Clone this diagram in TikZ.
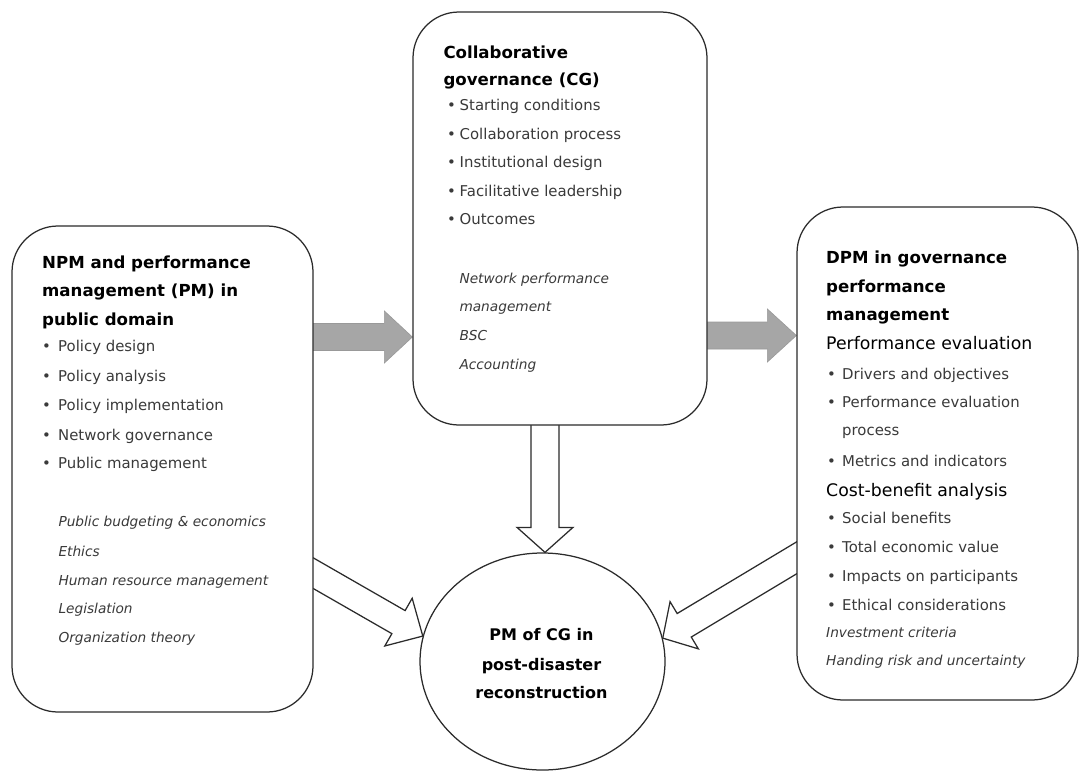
\documentclass[tikz,border=0pt]{standalone}
\usepackage{fontspec}
\setmainfont{DejaVu Sans}
\usetikzlibrary{shapes.geometric,calc,backgrounds}
\definecolor{edge}{HTML}{2B2B2B}
\definecolor{bodytext}{HTML}{3A3A3A}
\definecolor{blockgray}{HTML}{A6A6A6}
\newcommand\dotitem[2]{\makebox[#1][l]{•}#2}
\tikzset{
  panel/.style={draw=edge, line width=1.25pt, fill=white, rounded corners=46pt, inner sep=0pt},
  hub/.style={ellipse, draw=edge, line width=1.25pt, fill=white, inner sep=0pt},
  heading/.style={anchor=base west, inner sep=0pt, font=\bfseries\fontsize{16.6}{20}\selectfont, text=black},
  item/.style={anchor=base west, inner sep=0pt, font=\fontsize{14.9}{17}\selectfont, text=bodytext},
  topic/.style={anchor=base west, inner sep=0pt, font=\itshape\fontsize{13.7}{16}\selectfont, text=bodytext},
  subhead/.style={anchor=base west, inner sep=0pt, font=\fontsize{17.3}{20}\selectfont, text=black},
  hubtext/.style={anchor=base, inner sep=0pt, font=\bfseries\fontsize{16}{19}\selectfont, text=black},
  grayblock/.style={fill=blockgray, draw=blockgray!92!black, line width=0.6pt},
  hollow/.style={fill=white, draw=edge, line width=1.25pt, line join=miter},
}
\begin{document}
\begin{tikzpicture}[x=1pt,y=-1pt]
\useasboundingbox (0,0) rectangle (1083,771);

% the three panels and the central goal
\node[panel, minimum width=301pt, minimum height=486pt] (npm) at (162.5,469) {};
\node[panel, minimum width=294pt, minimum height=413pt] (cg) at (560,218.5) {};
\node[panel, minimum width=281pt, minimum height=493pt] (dpm) at (937.5,453.5) {};
\node[hub, minimum width=245pt, minimum height=217pt] (pm) at (542.5,661.5) {};

% block arrows, kept behind the panels so their tails hide inside them
\begin{pgfonlayer}{background}
  \fill[white] (0,0) rectangle (1083,771);
  % NPM -> CG
  \coordinate (ga) at ($(cg.west)+(0,118.5)$);
  \coordinate (gs) at ($(npm.east |- ga)+(-8,0)$);
  \draw[grayblock] ($(gs)+(0,-13.5)$) -- ($(ga)+(-28,-13.5)$) -- ($(ga)+(-28,-26)$) -- (ga)
    -- ($(ga)+(-28,26)$) -- ($(ga)+(-28,13.5)$) -- ($(gs)+(0,13.5)$) -- cycle;
  % CG -> DPM
  \coordinate (gb) at ($(dpm.west)+(0,-118)$);
  \coordinate (gbs) at ($(cg.east |- gb)+(-8,0)$);
  \draw[grayblock] ($(gbs)+(0,-13.5)$) -- ($(gb)+(-29,-13.5)$) -- ($(gb)+(-29,-26.5)$) -- (gb)
    -- ($(gb)+(-29,26.5)$) -- ($(gb)+(-29,13.5)$) -- ($(gbs)+(0,13.5)$) -- cycle;
  % CG -> PM of CG
  \coordinate (da) at ($(pm.north)+(2.5,0)$);
  \coordinate (ds) at ($(da |- cg.south)+(0,-8)$);
  \draw[hollow] ($(ds)+(-14,0)$) -- ($(da)+(-14,-25)$) -- ($(da)+(-28,-25)$) -- (da)
    -- ($(da)+(28,-25)$) -- ($(da)+(14,-25)$) -- ($(ds)+(14,0)$) -- cycle;
  % NPM -> PM of CG
  \coordinate (la) at (pm.168);
  \coordinate (ls) at ($(la)+(-121.4,-69.7)$);
  \coordinate (lb) at ($(la)!28pt!(ls)$);
  \draw[hollow] ($(ls)!13.3pt!90:(la)$) -- ($(lb)!13.3pt!90:(la)$) -- ($(lb)!27.5pt!90:(la)$) -- (la)
    -- ($(lb)!27.5pt!-90:(la)$) -- ($(lb)!13.3pt!-90:(la)$) -- ($(ls)!13.3pt!-90:(la)$) -- cycle;
  % DPM -> PM of CG
  \coordinate (ra) at (pm.11);
  \coordinate (rs) at ($(ra)+(145.7,-87.4)$);
  \coordinate (rb) at ($(ra)!25pt!(rs)$);
  \draw[hollow] ($(rs)!13.7pt!90:(ra)$) -- ($(rb)!13.7pt!90:(ra)$) -- ($(rb)!27.5pt!90:(ra)$) -- (ra)
    -- ($(rb)!27.5pt!-90:(ra)$) -- ($(rb)!13.7pt!-90:(ra)$) -- ($(rs)!13.7pt!-90:(ra)$) -- cycle;
\end{pgfonlayer}

% NPM panel text
\foreach \y/\t [count=\i] in {268.3/{NPM and performance}, 296.7/{management (PM) in}, 325/{public domain}}
  \node[heading] (npmh\i) at (42,\y) {\t};
\foreach \y/\t [count=\i] in {351.7/{Policy design}, 381/{Policy analysis}, 410.7/{Policy implementation},
    440/{Network governance}, 468/{Public management}}
  \node[item] (npmb\i) at (42,\y) {\dotitem{16pt}{\t}};
\foreach \y/\t [count=\i] in {526.7/{Public budgeting \& economics}, 556/{Ethics}, 585/{Human resource management},
    613/{Legislation}, 642.7/{Organization theory}}
  \node[topic] (npmt\i) at (58.3,\y) {\t};

% CG panel text
\foreach \y/\t [count=\i] in {58/{Collaborative}, 85/{governance (CG)}}
  \node[heading] (cgh\i) at (443.3,\y) {\t};
\foreach \y/\t [count=\i] in {110.7/{Starting conditions}, 139/{Collaboration process}, 167/{Institutional design},
    196/{Facilitative leadership}, 224/{Outcomes}}
  \node[item] (cgb\i) at (447,\y) {\dotitem{12.5pt}{\t}};
\foreach \y/\t [count=\i] in {283.3/{Network performance}, 311.7/{management}, 340.7/{BSC}, 369.3/{Accounting}}
  \node[topic] (cgt\i) at (459.3,\y) {\t};

% DPM panel text
\foreach \y/\t [count=\i] in {263.3/{DPM in governance}, 292/{performance}, 320.7/{management}}
  \node[heading] (dpmh\i) at (826,\y) {\t};
\node[subhead] (dpms1) at (826,349) {Performance evaluation};
\foreach \y/\t [count=\i] in {379/{Drivers and objectives}, 407/{Performance evaluation}}
  \node[item] (dpmb\i) at (827,\y) {\dotitem{15pt}{\t}};
\node[item] (dpmc1) at (842,435) {process};
\node[item] (dpmb3) at (827,466) {\dotitem{15pt}{Metrics and indicators}};
\node[subhead] (dpms2) at (826,496) {Cost-benefit analysis};
\foreach \y/\t [count=\i] in {523/{Social benefits}, 552/{Total economic value}, 581/{Impacts on participants},
    610/{Ethical considerations}}
  \node[item] (dpmd\i) at (827,\y) {\dotitem{15pt}{\t}};
\foreach \y/\t [count=\i] in {637/{Investment criteria}, 665.7/{Handing risk and uncertainty}}
  \node[topic] (dpmt\i) at (826,\y) {\t};

% goal text
\foreach \y/\t [count=\i] in {640/{PM of CG in}, 670.7/{post-disaster}, 698.3/{reconstruction}}
  \node[hubtext] (pmt\i) at (541.5,\y) {\t};
\end{tikzpicture}
\end{document}
